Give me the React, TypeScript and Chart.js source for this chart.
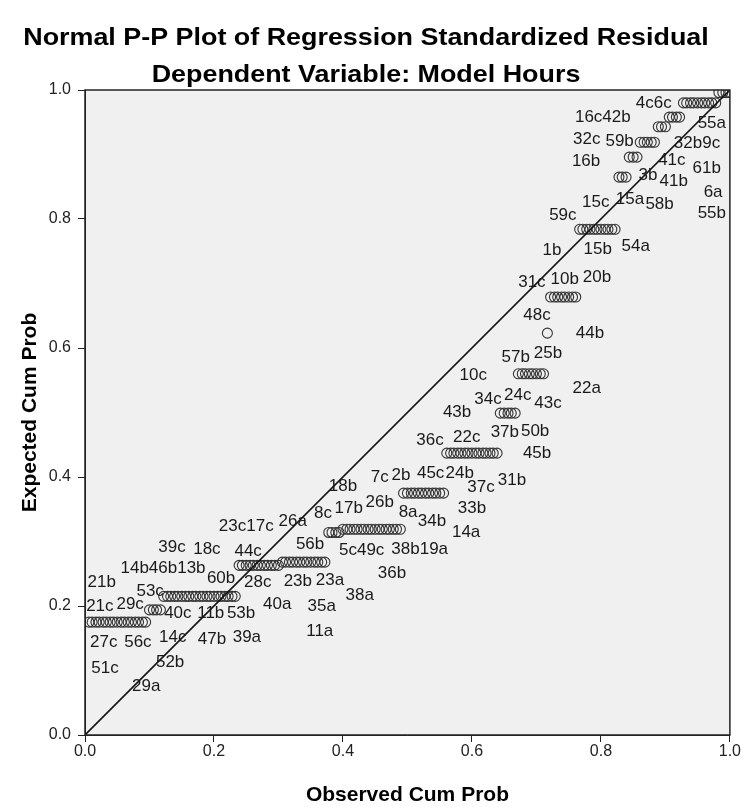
import { useEffect, useRef } from "react";
import { Chart, registerables } from "chart.js";

Chart.register(...registerables);

const TITLE = "Normal P-P Plot of Regression Standardized Residual";
const SUBTITLE = "Dependent Variable: Model Hours";
const X_TITLE = "Observed Cum Prob";
const Y_TITLE = "Expected Cum Prob";
const AXIS_TICKS = [0, 0.2, 0.4, 0.6, 0.8, 1.0];

// Expected cumulative probability shared by each group of tied residuals
const expectedLevels = [
  0.175, 0.194, 0.215, 0.263, 0.268, 0.314, 0.319, 0.375, 0.437, 0.499, 0.56,
  0.623, 0.679, 0.784, 0.865, 0.896, 0.919, 0.943, 0.958, 0.98, 0.996,
];

// Observed cumulative probabilities of the cases in each group
const observedGroups = [
  [0.006, 0.011, 0.017, 0.022, 0.028, 0.033, 0.039, 0.044, 0.05, 0.056, 0.061, 0.067, 0.072, 0.078, 0.083, 0.089, 0.094],
  [0.1, 0.106, 0.111, 0.117],
  [0.122, 0.128, 0.133, 0.139, 0.144, 0.15, 0.156, 0.161, 0.167, 0.172, 0.178, 0.183, 0.189, 0.194, 0.2, 0.206, 0.211, 0.217, 0.222, 0.228, 0.233],
  [0.239, 0.244, 0.25, 0.256, 0.261, 0.267, 0.272, 0.278, 0.283, 0.289, 0.294, 0.3],
  [0.306, 0.311, 0.317, 0.322, 0.328, 0.333, 0.339, 0.344, 0.35, 0.356, 0.361, 0.367, 0.372],
  [0.378, 0.383, 0.389, 0.394],
  [0.4, 0.406, 0.411, 0.417, 0.422, 0.428, 0.433, 0.439, 0.444, 0.45, 0.456, 0.461, 0.467, 0.472, 0.478, 0.483, 0.489],
  [0.494, 0.5, 0.506, 0.511, 0.517, 0.522, 0.528, 0.533, 0.539, 0.544, 0.55, 0.556],
  [0.561, 0.567, 0.572, 0.578, 0.583, 0.589, 0.594, 0.6, 0.606, 0.611, 0.617, 0.622, 0.628, 0.633, 0.639],
  [0.644, 0.65, 0.656, 0.661, 0.667],
  [0.672, 0.678, 0.683, 0.689, 0.694, 0.7, 0.706, 0.711],
  [0.717],
  [0.722, 0.728, 0.733, 0.739, 0.744, 0.75, 0.756, 0.761],
  [0.767, 0.772, 0.778, 0.783, 0.789, 0.794, 0.8, 0.806, 0.811, 0.817, 0.822],
  [0.828, 0.833, 0.839],
  [0.844, 0.85, 0.856],
  [0.861, 0.867, 0.872, 0.878, 0.883],
  [0.889, 0.894, 0.9],
  [0.906, 0.911, 0.917, 0.922],
  [0.928, 0.933, 0.939, 0.944, 0.95, 0.956, 0.961, 0.967, 0.972, 0.978],
  [0.983, 0.989, 0.994, 1.0],
];

// Case identifiers and the point in data units where each one is written
const caseLabels = [
  "4c6c", "16c42b", "55a", "32c", "59b", "32b9c", "16b", "41c", "61b", "3b",
  "41b", "6a", "15c", "15a", "58b", "55b", "59c", "1b", "15b", "54a",
  "31c", "10b", "20b", "48c", "44b", "57b", "25b", "10c", "22a", "34c",
  "24c", "43c", "43b", "37b", "50b", "36c", "22c", "45b", "7c", "2b",
  "45c", "24b", "37c", "31b", "18b", "8c", "17b", "26b", "8a", "34b",
  "33b", "14a", "23c17c", "26a", "56b", "5c49c", "38b19a", "36b", "39c", "18c",
  "44c", "14b46b13b", "60b", "28c", "23b", "23a", "21b", "53c", "21c", "29c",
  "40c", "11b", "53b", "40a", "35a", "38a", "27c", "56c", "14c", "47b",
  "39a", "11a", "51c", "52b", "29a",
];
const labelX = [
  0.882, 0.803, 0.972, 0.778, 0.829, 0.949, 0.777, 0.91, 0.964, 0.873,
  0.913, 0.974, 0.792, 0.845, 0.891, 0.972, 0.741, 0.724, 0.795, 0.854,
  0.693, 0.744, 0.794, 0.701, 0.783, 0.668, 0.718, 0.602, 0.778, 0.625,
  0.671, 0.718, 0.577, 0.651, 0.698, 0.535, 0.592, 0.701, 0.457, 0.49,
  0.536, 0.581, 0.614, 0.662, 0.4, 0.369, 0.409, 0.457, 0.501, 0.538,
  0.6, 0.591, 0.25, 0.322, 0.349, 0.429, 0.519, 0.476, 0.135, 0.189,
  0.253, 0.121, 0.211, 0.268, 0.33, 0.38, 0.026, 0.101, 0.023, 0.07,
  0.144, 0.195, 0.242, 0.298, 0.367, 0.426, 0.029, 0.082, 0.136, 0.197,
  0.251, 0.364, 0.031, 0.132, 0.095,
];
const labelY = [
  0.98, 0.958, 0.949, 0.924, 0.921, 0.918, 0.89, 0.891, 0.879, 0.868,
  0.859, 0.842, 0.826, 0.831, 0.822, 0.809, 0.806, 0.752, 0.753, 0.757,
  0.702, 0.707, 0.71, 0.651, 0.622, 0.586, 0.592, 0.557, 0.538, 0.521,
  0.527, 0.515, 0.501, 0.47, 0.471, 0.457, 0.462, 0.437, 0.4, 0.403,
  0.406, 0.406, 0.384, 0.395, 0.386, 0.343, 0.352, 0.361, 0.346, 0.332,
  0.352, 0.315, 0.324, 0.332, 0.296, 0.287, 0.288, 0.25, 0.291, 0.288,
  0.285, 0.259, 0.243, 0.236, 0.239, 0.24, 0.237, 0.223, 0.2, 0.202,
  0.188, 0.189, 0.189, 0.202, 0.2, 0.216, 0.144, 0.144, 0.152, 0.149,
  0.152, 0.161, 0.104, 0.113, 0.076,
];

const FONT = "'Liberation Sans', Arial, Helvetica, sans-serif";

const residualPoints = observedGroups.flatMap((group, g) =>
  group.map((x) => ({ x, y: expectedLevels[g] }))
);

// Draws a line of heading text slightly widened, as the chart headings are set
function wideText(ctx: CanvasRenderingContext2D, text: string, cx: number, cy: number, stretch: number) {
  ctx.save();
  ctx.translate(cx, cy);
  ctx.scale(stretch, 1);
  ctx.fillText(text, 0, 0);
  ctx.restore();
}

const plotDecor = {
  id: "plotDecor",
  beforeDraw(chart: any) {
    const { ctx, chartArea: a, width, height } = chart;
    ctx.save();
    ctx.fillStyle = "#ffffff";
    ctx.fillRect(0, 0, width, height);
    ctx.fillStyle = "#f0f0f0";
    ctx.fillRect(a.left, a.top, a.right - a.left, a.bottom - a.top);
    ctx.restore();
  },
  afterDatasetsDraw(chart: any) {
    const { ctx, scales } = chart;
    ctx.save();
    ctx.fillStyle = "#1a1a1a";
    ctx.font = `17px ${FONT}`;
    ctx.textAlign = "center";
    ctx.textBaseline = "middle";
    caseLabels.forEach((t, i) => {
      ctx.fillText(t, scales.x.getPixelForValue(labelX[i]), scales.y.getPixelForValue(labelY[i]));
    });
    ctx.restore();
  },
  afterDraw(chart: any) {
    const { ctx, chartArea: a } = chart;
    ctx.save();
    ctx.strokeStyle = "#222";
    ctx.lineWidth = 1.5;
    ctx.strokeRect(a.left, a.top, a.right - a.left, a.bottom - a.top);
    ctx.fillStyle = "#000";
    ctx.font = `bold 24px ${FONT}`;
    ctx.textAlign = "center";
    ctx.textBaseline = "middle";
    wideText(ctx, TITLE, 366, 38, 1.12);
    wideText(ctx, SUBTITLE, 366, 75, 1.12);
    ctx.restore();
  },
};

export default function App() {
  const ref = useRef<HTMLCanvasElement | null>(null);

  useEffect(() => {
    if (!ref.current) return;
    const axis = (title: string, isX: boolean) => ({
      type: "linear" as const,
      min: 0,
      max: 1,
      afterBuildTicks: (s: any) => {
        s.ticks = AXIS_TICKS.map((v) => ({ value: v }));
      },
      afterFit: (s: any) => {
        if (isX) s.height = 73;
        else s.width = 85;
      },
      grid: {
        display: true,
        drawOnChartArea: false,
        drawTicks: true,
        tickLength: 7,
        color: "#222",
      },
      border: { display: true, color: "#222", width: 1 },
      ticks: {
        padding: isX ? 0 : 7,
        color: "#222",
        font: { family: FONT, size: 16 },
        maxRotation: 0,
        callback: (v: any) => Number(v).toFixed(1),
      },
      title: {
        display: true,
        text: title,
        color: "#000",
        font: { family: FONT, size: 21, weight: "bold" as const, lineHeight: 1 },
        padding: isX ? { top: 0, bottom: 2.5 } : { top: 19.5, bottom: 0 },
      },
    });

    const chart = new Chart(ref.current, {
      type: "scatter",
      data: {
        datasets: [
          {
            type: "line",
            data: [
              { x: 0, y: 0 },
              { x: 1, y: 1 },
            ],
            borderColor: "#111",
            borderWidth: 1.6,
            pointRadius: 0,
            fill: false,
            order: 0,
          } as any,
          {
            data: residualPoints,
            pointStyle: "circle",
            pointRadius: 5,
            backgroundColor: "rgba(0,0,0,0)",
            borderColor: "#333",
            borderWidth: 1.1,
            order: 1,
          },
        ],
      },
      options: {
        animation: false,
        responsive: true,
        maintainAspectRatio: false,
        layout: { padding: { left: 0, right: 11, top: 90, bottom: 0 } },
        plugins: {
          legend: { display: false },
          tooltip: { enabled: false },
          title: { display: false },
        },
        scales: {
          x: axis(X_TITLE, true),
          y: axis(Y_TITLE, false),
        },
      },
      plugins: [plotDecor],
    });
    return () => chart.destroy();
  }, []);

  return (
    <div style={{ position: "fixed", left: 0, top: 0, width: 741, height: 808 }}>
      <canvas ref={ref} />
    </div>
  );
}
